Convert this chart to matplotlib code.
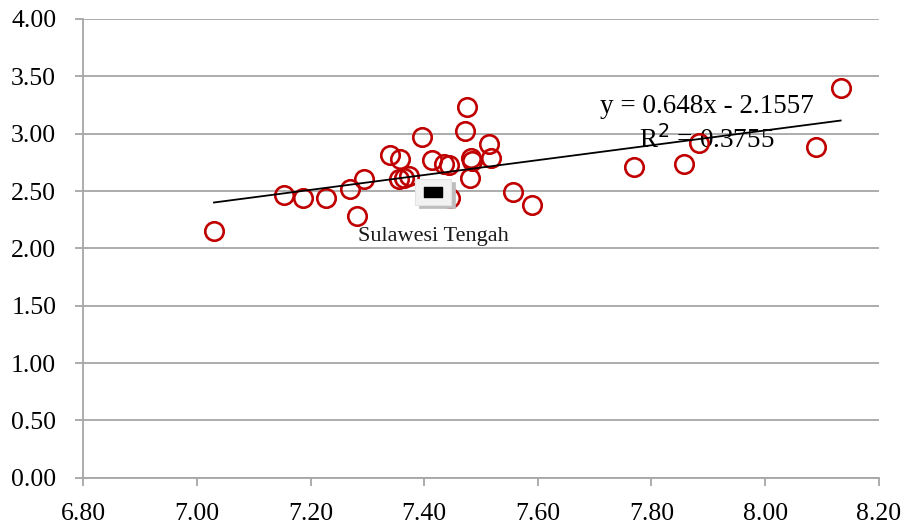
import matplotlib
matplotlib.use("Agg")
import matplotlib.pyplot as plt
import matplotlib.transforms as mtrans
from matplotlib.path import Path
import numpy as np

# ---- data ----
x_vals = [7.030, 7.153, 7.186, 7.227, 7.269, 7.282, 7.294, 7.339, 7.358, 7.355,
          7.364, 7.373, 7.397, 7.414, 7.435, 7.444, 7.445, 7.475, 7.472, 7.483,
          7.485, 7.480, 7.514, 7.517, 7.557, 7.589, 7.770, 7.858, 7.883, 8.090,
          8.133]
y_vals = [2.150, 2.468, 2.435, 2.435, 2.516, 2.285, 2.608, 2.817, 2.778, 2.603,
          2.612, 2.630, 2.974, 2.773, 2.739, 2.726, 2.442, 3.235, 3.024, 2.789,
          2.765, 2.612, 2.907, 2.787, 2.490, 2.377, 2.708, 2.734, 2.917, 2.882,
          3.397]
highlight_name = "Sulawesi Tengah"
highlight_x = 7.416
highlight_y = 2.495
slope = 0.648
intercept = -2.1557
r_squared = 0.3755
x_ticks = [6.8, 7.0, 7.2, 7.4, 7.6, 7.8, 8.0, 8.2]
y_ticks = [0.0, 0.5, 1.0, 1.5, 2.0, 2.5, 3.0, 3.5, 4.0]

plt.rcParams['font.family'] = ['Liberation Serif', 'DejaVu Serif']

fig = plt.figure(figsize=(9.06, 5.27), dpi=100)
ax = fig.add_axes([0.0919, 0.0935, 0.9699 - 0.0919, 0.964 - 0.0935])

grid_col = '#a6a6a6'
ax.set_xlim(6.8, 8.2)
ax.set_ylim(0, 4.0)
ax.set_xticks(x_ticks)
ax.set_yticks(y_ticks)
ax.set_xticklabels([f"{v:.2f}" for v in x_ticks])
ax.set_yticklabels([f"{v:.2f}" for v in y_ticks])
ax.yaxis.grid(True, color=grid_col, linewidth=1.3)
ax.set_axisbelow(True)
for s in ['top', 'right']:
    ax.spines[s].set_visible(False)
for s in ['left', 'bottom']:
    ax.spines[s].set_color(grid_col)
    ax.spines[s].set_linewidth(1.3)
ax.tick_params(axis='both', colors=grid_col, length=5.5, width=1.3,
               labelcolor='black', labelsize=18.5)
ax.tick_params(axis='x', pad=13)
ax.tick_params(axis='y', pad=14)

# scatter points
ax.plot(x_vals, y_vals, linestyle='none', marker='o', markersize=13.3,
        markerfacecolor='none', markeredgecolor='#c00000',
        markeredgewidth=1.9, zorder=3)

# trendline
xs = np.array([min(x_vals), max(x_vals)])
ax.plot(xs, slope * xs + intercept, color='black', linewidth=1.3, zorder=4)

# highlighted point marker (box with shadow + black bar)
box = Path([(-35, -26), (35, -26), (35, 26), (-35, 26), (-35, -26)],
           [Path.MOVETO, Path.LINETO, Path.LINETO, Path.LINETO, Path.CLOSEPOLY])
bar = Path([(-18, -9), (18, -9), (18, 9), (-18, 9), (-18, -9)],
           [Path.MOVETO, Path.LINETO, Path.LINETO, Path.LINETO, Path.CLOSEPOLY])
shadow_tr = mtrans.offset_copy(ax.transData, fig=fig, x=3.5, y=-3.5, units='dots')
ax.plot([highlight_x], [highlight_y], linestyle='none', marker=box,
        markersize=25.5, markerfacecolor='#bdbdbd', markeredgecolor='#bdbdbd',
        markeredgewidth=0.5, zorder=5, transform=shadow_tr)
ax.plot([highlight_x], [highlight_y], linestyle='none', marker=box,
        markersize=25.5, markerfacecolor='#f2f2f2', markeredgecolor='#e3e3e3',
        markeredgewidth=0.8, zorder=5.5)
ax.plot([highlight_x], [highlight_y], linestyle='none', marker=bar,
        markersize=13, markerfacecolor='black', markeredgecolor='black',
        zorder=6)
ax.annotate(highlight_name, (highlight_x, highlight_y), xytext=(0, -32),
            textcoords='offset points', ha='center', va='center',
            fontsize=16, color='#1a1a1a', zorder=6)

# equation text
ax.text(7.897, 3.24, f"y = {slope:g}x - {abs(intercept):g}", ha='center',
        va='center', fontsize=19.5, zorder=2)
ax.text(7.897, 2.945, f"R$^2$ = {r_squared:g}", ha='center', va='center',
        fontsize=19.5, zorder=2)

fig.savefig("out.png", dpi=100)
